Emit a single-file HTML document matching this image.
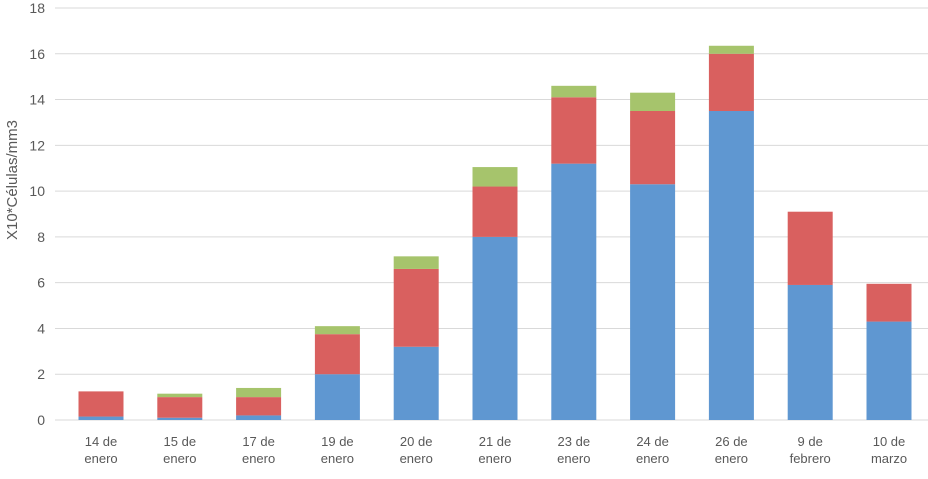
<!DOCTYPE html>
<html><head><meta charset="utf-8"><style>
body{margin:0;background:#fff;font-family:"Liberation Sans",sans-serif;}
svg text{font-family:"Liberation Sans",sans-serif;fill:#595959;}
</style></head><body>
<svg id="chart" width="928" height="474" viewBox="0 0 928 474"></svg>
<script>
const categories=[["14 de","enero"],["15 de","enero"],["17 de","enero"],["19 de","enero"],["20 de","enero"],["21 de","enero"],["23 de","enero"],["24 de","enero"],["26 de","enero"],["9 de","febrero"],["10 de","marzo"]];
const blueValues=[0.15,0.1,0.2,2.0,3.2,8.0,11.2,10.3,13.5,5.9,4.3];
const redValues=[1.1,0.9,0.8,1.75,3.4,2.2,2.9,3.2,2.5,3.2,1.65];
const greenValues=[0,0.15,0.4,0.35,0.55,0.85,0.5,0.8,0.35,0,0];
const yTicks=[0,2,4,6,8,10,12,14,16,18];
const NS="http://www.w3.org/2000/svg";
const svg=document.getElementById('chart');
const gx0=55,gx1=928,y0=420,y1=8,yMax=18;
const y=v=>y0-(v/yMax)*(y0-y1);
const band=78.8, bx0=61.6;
const xc=i=>bx0+band*(i+0.5);
const bw=45;
function mk(t,a){const e=document.createElementNS(NS,t);for(const k in a)e.setAttribute(k,a[k]);svg.appendChild(e);return e;}
yTicks.forEach(t=>{
 const l=mk('line',{x1:gx0,x2:gx1,y1:y(t),y2:y(t),stroke:'#d9d9d9','stroke-width':1});
 
 
 const tx=mk('text',{x:45,y:y(t)+5,'text-anchor':'end','font-size':14});
 tx.textContent=t;
 
 
});
const series=[[blueValues,'#5f97d1','bar-blue'],[redValues,'#d9605f','bar-red'],[greenValues,'#a6c46c','bar-green']];
categories.forEach((c,i)=>{
 let base=0;
 series.forEach(([vals,col,nm])=>{
  const v=vals[i];
  if(v>0){
   const r=mk('rect',{x:xc(i)-bw/2,y:y(base+v),width:bw,height:y(base)-y(base+v),fill:col});
   
   
  }
  base+=v;
 });
 const t=mk('text',{x:xc(i),y:446,'text-anchor':'middle','font-size':13});
 
 
 c.forEach((line,k)=>{const s=document.createElementNS(NS,'tspan');s.setAttribute('x',xc(i));s.setAttribute('dy',k?17:0);s.textContent=line;t.appendChild(s);});
});
const at=mk('text',{x:0,y:0,'text-anchor':'middle','font-size':15,transform:'translate(17,180) rotate(-90)'});
at.textContent='X10*Células/mm3';


</script>
</body></html>
